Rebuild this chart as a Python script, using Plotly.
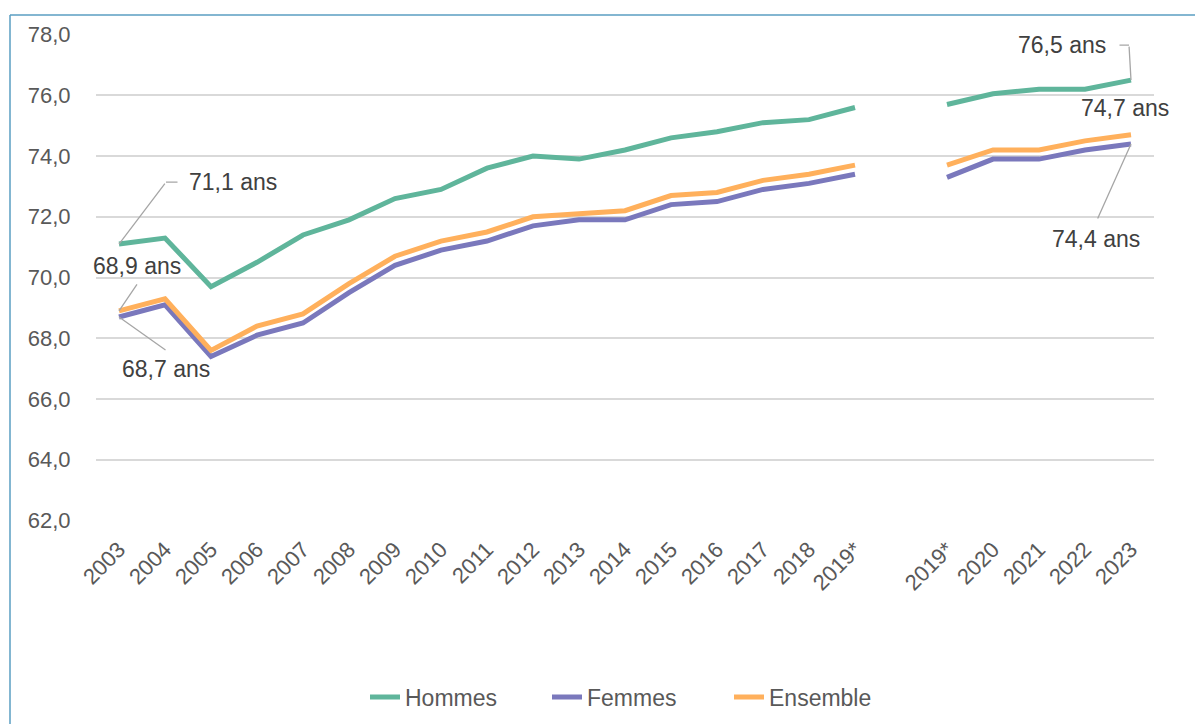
import plotly.graph_objects as go

categories = ["2003", "2004", "2005", "2006", "2007", "2008", "2009", "2010", "2011",
              "2012", "2013", "2014", "2015", "2016", "2017", "2018", "2019*", "",
              "2019*", "2020", "2021", "2022", "2023"]

hommes = [71.1, 71.3, 69.7, 70.5, 71.4, 71.9, 72.6, 72.9, 73.6, 74.0, 73.9, 74.2,
          74.6, 74.8, 75.1, 75.2, 75.6, None, 75.7, 76.05, 76.2, 76.2, 76.5]
femmes = [68.7, 69.1, 67.4, 68.1, 68.5, 69.5, 70.4, 70.9, 71.2, 71.7, 71.9, 71.9,
          72.4, 72.5, 72.9, 73.1, 73.4, None, 73.3, 73.9, 73.9, 74.2, 74.4]
ensemble = [68.9, 69.3, 67.6, 68.4, 68.8, 69.8, 70.7, 71.2, 71.5, 72.0, 72.1, 72.2,
            72.7, 72.8, 73.2, 73.4, 73.7, None, 73.7, 74.2, 74.2, 74.5, 74.7]

series_names = ["Hommes", "Femmes", "Ensemble"]
colors = ["#5FB59B", "#7A78BC", "#FFB05C"]

y_ticks = [62, 64, 66, 68, 70, 72, 74, 76, 78]

x = list(range(len(categories)))

fig = go.Figure()
for name, vals, col in zip(series_names, [hommes, femmes, ensemble], colors):
    fig.add_trace(go.Scatter(
        x=x, y=vals, name=name, mode="lines",
        line=dict(color=col, width=5),
        connectgaps=False, hoverinfo="skip",
    ))

FONT = "Liberation Sans, Arial, sans-serif"
LEAD = "#A6A6A6"
TXT = "#404040"

ann = []


def leader(xi, yi, ax, ay, xs=0, ys=0):
    ann.append(dict(x=xi, y=yi, xref="x", yref="y", text="", showarrow=True,
                    arrowhead=0, arrowwidth=1.3, arrowcolor=LEAD,
                    ax=ax, ay=ay, xshift=xs, yshift=ys, standoff=0, startstandoff=0))


def label(xi, yi, text, xs, ys, xanchor="center"):
    ann.append(dict(x=xi, y=yi, xref="x", yref="y", text=text, showarrow=False,
                    xshift=xs, yshift=ys, xanchor=xanchor, yanchor="middle",
                    font=dict(family=FONT, size=23, color=TXT)))


last = len(categories) - 1
# Hommes 2003
leader(0, hommes[0], 47, -62)
leader(0, hommes[0], 13, 0, xs=47, ys=62)
label(0, hommes[0], "71,1 ans", 68, 62, "left")
# Ensemble 2003
leader(0, ensemble[0], 19, -28)
label(0, ensemble[0], "68,9 ans", 18, 45)
# Femmes 2003
leader(0, femmes[0], 48, 34)
label(0, femmes[0], "68,7 ans", 47, -52)
# Hommes 2023
leader(last, hommes[last], -2, -35)
leader(last, hommes[last], -11, 0, xs=-2, ys=35)
label(last, hommes[last], "76,5 ans", -23, 35, "right")
# Ensemble 2023
label(last, ensemble[last], "74,7 ans", -6, 27)
# Femmes 2023
leader(last, femmes[last], -34, 76)
label(last, femmes[last], "74,4 ans", -35, -95)

PL, PR, PT, PB = 96, 41, 34, 203
W, H = 1195, 724
pw, ph = W - PL - PR, H - PT - PB


def fx(px):
    return (px - PL) / pw


def fy(py):
    return (H - PB - py) / ph


shapes = [
    dict(type="line", xref="paper", yref="paper", x0=fx(10), x1=fx(1200), y0=fy(15), y1=fy(15),
         line=dict(color="#5A9EC2", width=1.5)),
    dict(type="line", xref="paper", yref="paper", x0=fx(10), x1=fx(10), y0=fy(15), y1=fy(730),
         line=dict(color="#5A9EC2", width=1.5)),
]

fig.update_layout(
    width=W, height=H,
    margin=dict(l=PL, r=PR, t=PT, b=PB, autoexpand=False),
    paper_bgcolor="white", plot_bgcolor="white",
    separators=", ",
    font=dict(family=FONT, color="#595959", size=22),
    showlegend=True,
    legend=dict(orientation="h", x=fx(365), xanchor="left", y=fy(697), yanchor="middle",
                font=dict(family=FONT, size=23, color="#595959"),
                entrywidth=137, entrywidthmode="pixels",
                tracegroupgap=0, bgcolor="rgba(0,0,0,0)"),
    annotations=ann,
    shapes=shapes,
    xaxis=dict(
        range=[-0.5, len(categories) - 0.5],
        tickmode="array", tickvals=x, ticktext=categories,
        tickangle=-45, showgrid=False, zeroline=False, showline=False,
        ticks="outside", ticklen=6, tickcolor="rgba(0,0,0,0)",
        tickfont=dict(family=FONT, size=22, color="#595959"),
        fixedrange=True, automargin=False,
    ),
    yaxis=dict(
        range=[61.98, 78.02],
        tickmode="array", tickvals=y_ticks, tickformat=".1f",
        showgrid=True, gridcolor="#D9D9D9", gridwidth=1.5,
        zeroline=False, showline=False,
        ticks="outside", ticklen=20, tickcolor="rgba(0,0,0,0)",
        tickfont=dict(family=FONT, size=22, color="#595959"),
        fixedrange=True, automargin=False,
    ),
)

fig.write_html("out.html", config={"displayModeBar": False},
               post_script="document.body.style.margin='0';")
